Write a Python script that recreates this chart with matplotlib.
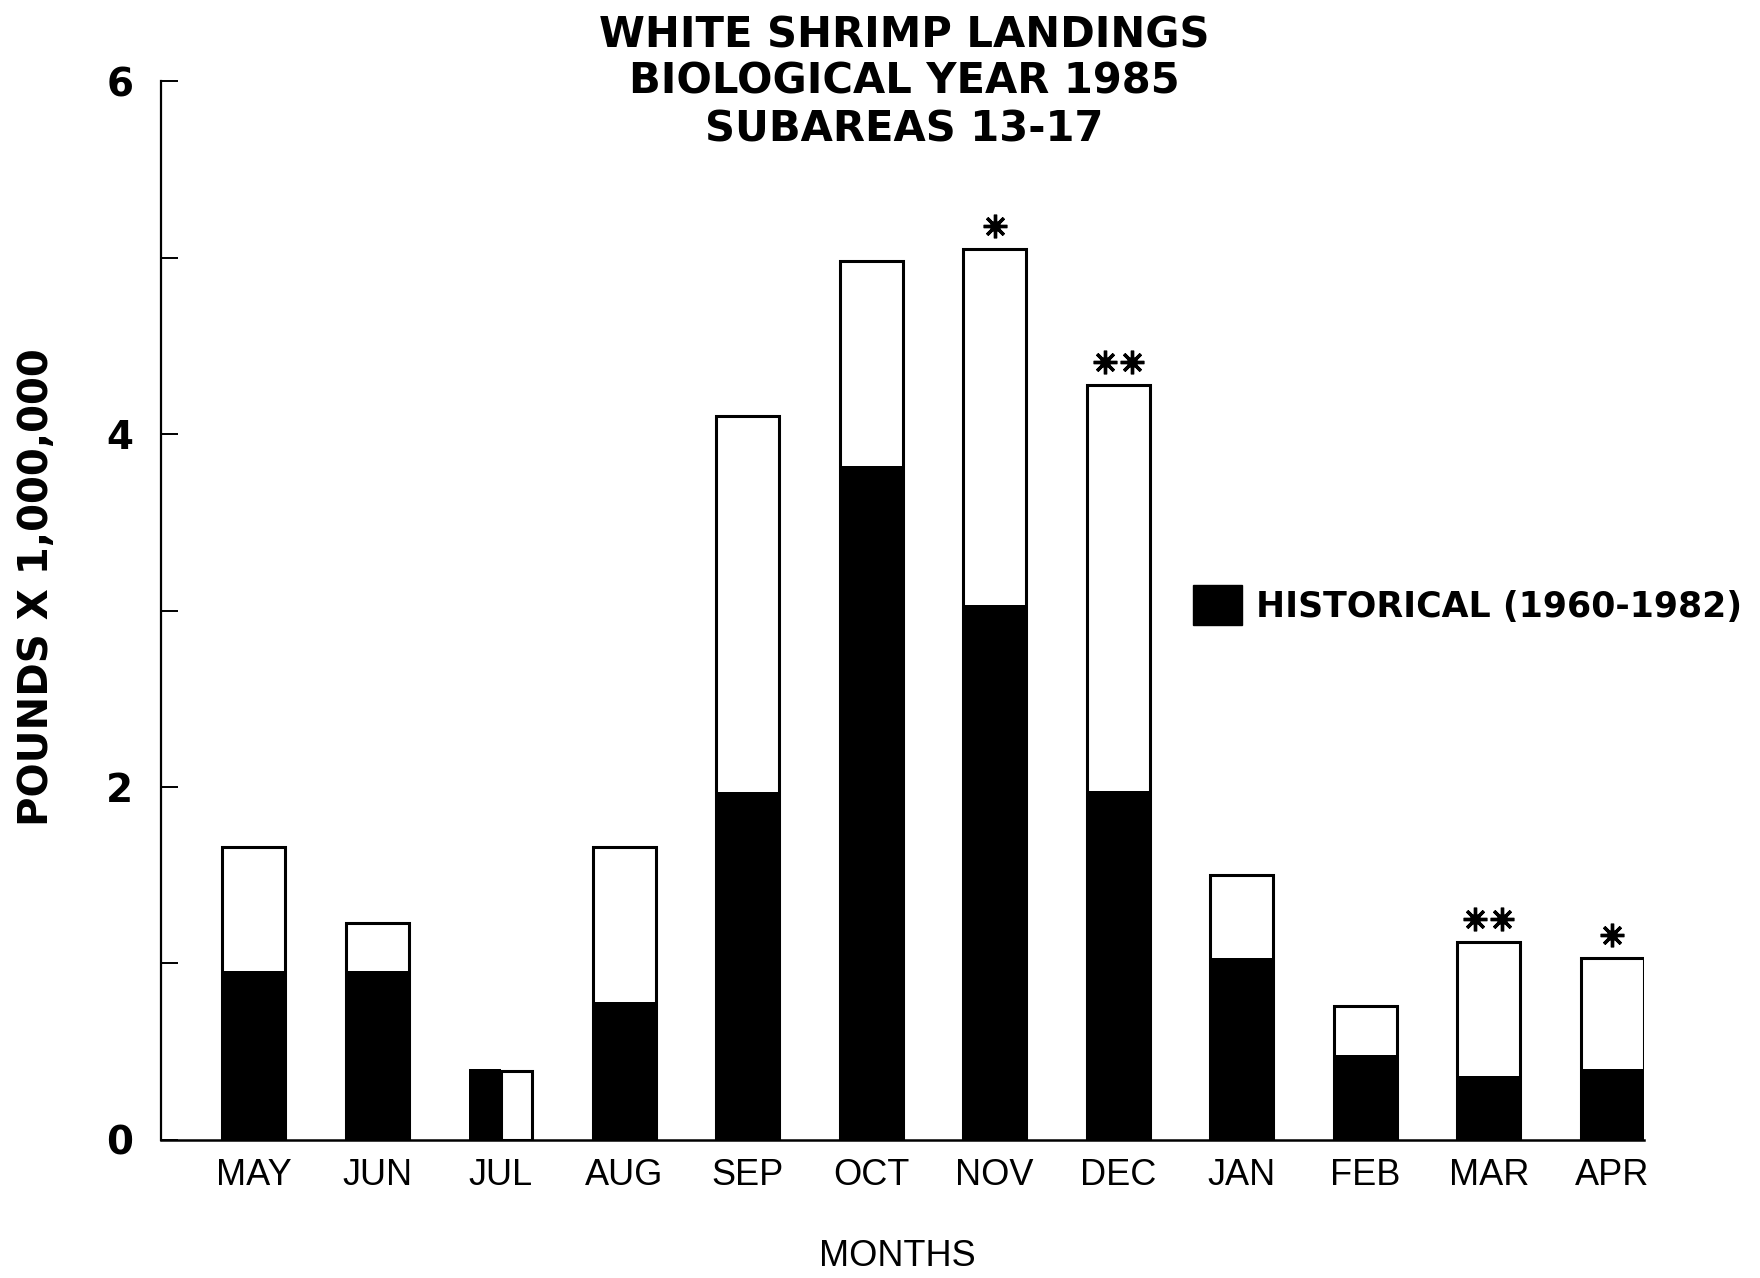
import matplotlib
matplotlib.use("Agg")
import matplotlib.pyplot as plt
from matplotlib.patches import Patch
import numpy as np

# landings, pounds x 1,000,000
months = ['MAY', 'JUN', 'JUL', 'AUG', 'SEP', 'OCT',
          'NOV', 'DEC', 'JAN', 'FEB', 'MAR', 'APR']
landings_1985 = [1.66, 1.23, 0.39, 1.66, 4.10, 4.98,
                 5.05, 4.28, 1.50, 0.76, 1.12, 1.03]
historical = [0.96, 0.96, 0.40, 0.78, 1.97, 3.82,
              3.03, 1.98, 1.03, 0.48, 0.36, 0.40]
stars = [0, 0, 0, 0, 0, 0, 1, 2, 0, 0, 2, 1]
title_lines = ['WHITE SHRIMP LANDINGS', 'BIOLOGICAL YEAR 1985', 'SUBAREAS 13-17']
legend_label = 'HISTORICAL (1960-1982)'

bold = 'DejaVu Sans'
thin = 'Liberation Sans'

fig = plt.figure(figsize=(17.6, 12.78), dpi=100)
ax = fig.add_axes([0.0915, 0.108, 0.8428, 0.8286])

x = np.arange(len(months))
land = np.array(landings_1985)
hist = np.array(historical)
width = 0.51

# normal months: outlined 1985 bar with historical black bar in front
over = hist >= land
ax.bar(x[~over], land[~over], width, color='white', edgecolor='black',
       linewidth=2.2, zorder=2)
ax.bar(x[~over], hist[~over], width, color='black', linewidth=0, zorder=3)
# month where historical equals/exceeds 1985: drawn side by side
ax.bar(x[over] - width / 4, hist[over], width / 2, color='black',
       linewidth=0, zorder=3)
ax.bar(x[over] + width / 4, land[over], width / 2, color='white',
       edgecolor='black', linewidth=2.2, zorder=2)

# asterisks above flagged months
for xi, top, n in zip(x, land, stars):
    if n == 0:
        continue
    offs = [0.0] if n == 1 else [-0.11, 0.11]
    for o in offs:
        ax.plot(xi + o, top + 0.13, marker=(8, 2, 0), ms=17, mew=2.4,
                color='black', zorder=4, clip_on=False)
        ax.plot(xi + o, top + 0.13, marker='o', ms=7, color='black',
                zorder=4, clip_on=False)

ax.set_xlim(-0.75, 11.26)
ax.set_ylim(0, 6)
for s in ['top', 'right']:
    ax.spines[s].set_visible(False)
ax.spines['left'].set_linewidth(1.6)
ax.spines['bottom'].set_linewidth(1.8)

ax.set_yticks(range(0, 7))
ax.set_yticklabels(['0', '', '2', '', '4', '', '6'])
ax.tick_params(axis='y', direction='in', length=12, width=1.4, pad=20,
               labelsize=28)
for lab in ax.get_yticklabels():
    lab.set_fontfamily(bold)
    lab.set_fontweight('bold')

ax.set_xticks(x)
ax.set_xticklabels(months, fontfamily=thin, fontsize=26)
ax.tick_params(axis='x', length=0, pad=13)

fig.text(37 / 1760, 1 - 587 / 1278, 'POUNDS X 1,000,000', fontfamily=bold,
         fontweight='bold', fontsize=29, rotation=90, ha='center',
         va='center')

fig.text(0.510, 1 - 1257 / 1278, 'MONTHS', fontfamily=thin, fontsize=26,
         ha='center', va='center')

for i, line in enumerate(title_lines):
    fig.text(0.514, 1 - (35 + 47 * i) / 1278, line, fontfamily=bold,
             fontweight='bold', fontsize=30, ha='center', va='center')

leg = ax.legend([Patch(facecolor='black', edgecolor='black')], [legend_label],
                loc='center left', bbox_to_anchor=(1193 / 1760, 1 - 605 / 1278),
                bbox_transform=fig.transFigure, frameon=False, borderpad=0,
                borderaxespad=0, handlelength=1.4, handleheight=1.4,
                handletextpad=0.4, prop={'family': bold, 'weight': 'bold',
                                          'size': 25})

fig.savefig('out.png', dpi=100)
